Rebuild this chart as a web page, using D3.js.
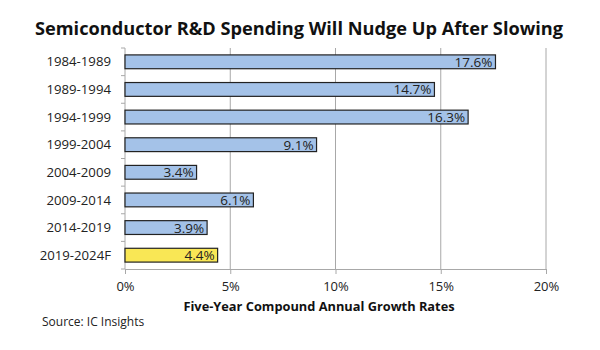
<!DOCTYPE html>
<html>
<head>
<meta charset="utf-8">
<script src="https://cdn.jsdelivr.net/npm/d3@7"></script>
<style>
  body { margin: 0; background: #fff; }
  text { font-family: "Open Sans", "Noto Sans", sans-serif; }
</style>
</head>
<body>
<div id="chart"></div>
<script>
/**
 * CONSTANTS AND DATA
 * */
const width = 600,
  height = 350,
  margin = { top: 48, bottom: 81, left: 125, right: 54 };

const periods = ["1984-1989", "1989-1994", "1994-1999", "1999-2004",
  "2004-2009", "2009-2014", "2014-2019", "2019-2024F"];
const growth = [17.6, 14.7, 16.3, 9.1, 3.4, 6.1, 3.9, 4.4];
const forecast = [false, false, false, false, false, false, false, true];
const xTicks = [0, 5, 10, 15, 20];

const data = periods.map((p, i) => ({ period: p, value: growth[i], forecast: forecast[i] }));

const svg = d3.select("#chart")
  .append("svg")
  .attr("width", width)
  .attr("height", height);

// SCALES
const xScale = d3.scaleLinear()
  .domain([0, 20])
  .range([margin.left, width - margin.right]);

const yScale = d3.scaleBand()
  .domain(periods)
  .range([margin.top, height - margin.bottom])
  .paddingInner(0.5)
  .paddingOuter(0.25);

// title
svg.append("text")
  .attr("x", 299)
  .attr("y", 35)
  .attr("text-anchor", "middle")
  .attr("font-size", 18.2)
  .attr("font-weight", "bold")
  .attr("fill", "#111")
  .text("Semiconductor R&D Spending Will Nudge Up After Slowing");

// gridlines
svg.append("g")
  .selectAll("line")
  .data(xTicks.slice(1))
  .join("line")
  .attr("x1", d => xScale(d))
  .attr("x2", d => xScale(d))
  .attr("y1", margin.top)
  .attr("y2", height - margin.bottom)
  .attr("stroke", "#a8a8a8")
  .attr("stroke-width", 1);

// x axis
const xAxis = d3.axisBottom(xScale)
  .tickValues(xTicks)
  .tickFormat(d => d + "%")
  .tickSize(5)
  .tickPadding(8);

svg.append("g")
  .attr("transform", `translate(0,${height - margin.bottom})`)
  .call(xAxis)
  .call(g => g.select(".domain").attr("stroke", "#a8a8a8"))
  .call(g => g.selectAll(".tick line").attr("stroke", "#a8a8a8"))
  .call(g => g.selectAll(".tick text").attr("font-size", 13).attr("fill", "#222"));

// y axis: ticks at band boundaries
const bounds = periods.map(p => yScale(p) - yScale.step() * yScale.paddingInner() / 2)
  .concat([height - margin.bottom]);

svg.append("line")
  .attr("x1", margin.left).attr("x2", margin.left)
  .attr("y1", margin.top).attr("y2", height - margin.bottom)
  .attr("stroke", "#a8a8a8");

svg.append("g")
  .selectAll("line")
  .data(bounds)
  .join("line")
  .attr("x1", margin.left - 4)
  .attr("x2", margin.left)
  .attr("y1", d => d)
  .attr("y2", d => d)
  .attr("stroke", "#a8a8a8");

svg.append("g")
  .selectAll("text")
  .data(periods)
  .join("text")
  .attr("x", 111)
  .attr("y", d => yScale(d) + yScale.bandwidth() / 2)
  .attr("dy", "0.35em")
  .attr("text-anchor", "end")
  .attr("font-size", 13.2)
  .attr("fill", "#222")
  .text(d => d);

// bars
svg.append("g")
  .selectAll("rect")
  .data(data)
  .join("rect")
  .attr("x", xScale(0))
  .attr("y", d => yScale(d.period))
  .attr("width", d => xScale(d.value) - xScale(0))
  .attr("height", yScale.bandwidth())
  .attr("fill", d => d.forecast ? "#f9e755" : "#a4c2e8")
  .attr("stroke", "#222")
  .attr("stroke-width", 1.2);

// value labels
svg.append("g")
  .selectAll("text")
  .data(data)
  .join("text")
  .attr("x", d => xScale(d.value) - 3)
  .attr("y", d => yScale(d.period) + yScale.bandwidth() / 2)
  .attr("dy", "0.37em")
  .attr("text-anchor", "end")
  .attr("font-size", 13.5)
  .attr("fill", "#222")
  .text(d => d.value.toFixed(1) + "%");

// axis title
svg.append("text")
  .attr("x", 319)
  .attr("y", 311)
  .attr("text-anchor", "middle")
  .attr("font-size", 12.8)
  .attr("font-weight", "bold")
  .attr("fill", "#111")
  .text("Five-Year Compound Annual Growth Rates");

// source
svg.append("text")
  .attr("x", 42)
  .attr("y", 326)
  .attr("font-size", 12)
  .attr("fill", "#222")
  .text("Source: IC Insights");
</script>
</body>
</html>
